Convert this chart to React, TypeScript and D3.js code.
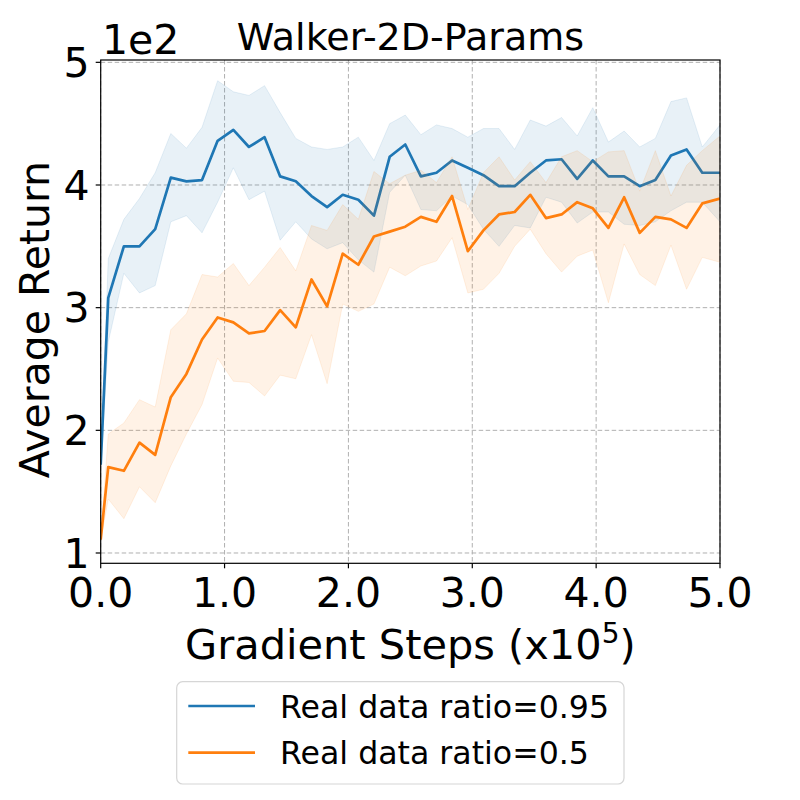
import * as d3 from "d3";

// gradient steps (x1e5)
const pasos = [
  0, 0.061, 0.187, 0.313, 0.44, 0.566, 0.692, 0.818, 0.944, 1.071, 1.197, 1.323, 1.449, 1.575,
  1.702, 1.828, 1.954, 2.08, 2.206, 2.333, 2.459, 2.585, 2.711, 2.837, 2.964, 3.09, 3.216,
  3.342, 3.468, 3.595, 3.721, 3.847, 3.973, 4.099, 4.226, 4.352, 4.478, 4.604, 4.73, 4.857, 5.0,
];

// Real data ratio = 0.95 (x1e2)
const azulMedia = [
  1.72, 3.08, 3.5, 3.5, 3.64, 4.06, 4.03, 4.04, 4.36, 4.45, 4.31, 4.39, 4.07, 4.03, 3.91, 3.82,
  3.92, 3.88, 3.75, 4.23, 4.33, 4.07, 4.1, 4.2, 4.14, 4.08, 3.99, 3.99, 4.1, 4.2, 4.21, 4.05,
  4.2, 4.07, 4.07, 3.99, 4.04, 4.24, 4.29, 4.1, 4.1,
];
const azulAlto = [
  1.76, 3.4, 3.72, 3.89, 4.1, 4.42, 4.3, 4.47, 4.85, 4.76, 4.73, 4.81, 4.59, 4.38, 4.31, 4.29,
  4.31, 4.39, 4.2, 4.5, 4.57, 4.41, 4.49, 4.46, 4.39, 4.46, 4.46, 4.29, 4.53, 4.48, 4.55, 4.4,
  4.63, 4.35, 4.44, 4.31, 4.38, 4.68, 4.71, 4.31, 4.49,
];
const azulBajo = [
  1.68, 2.72, 3.28, 3.12, 3.18, 3.7, 3.75, 3.61, 3.86, 4.14, 3.88, 3.95, 3.55, 3.7, 3.56, 3.48,
  3.53, 3.39, 3.29, 3.94, 4.08, 3.8, 3.79, 3.91, 3.84, 3.64, 3.5, 3.67, 3.65, 3.9, 3.86, 3.69,
  3.78, 3.78, 3.68, 3.67, 3.7, 3.79, 3.86, 3.86, 3.7,
];

// Real data ratio = 0.5 (x1e2)
const naranjaMedia = [
  1.11, 1.7, 1.67, 1.9, 1.8, 2.27, 2.46, 2.74, 2.92, 2.88, 2.79, 2.81, 2.98, 2.84, 3.23, 3.01,
  3.44, 3.35, 3.58, 3.62, 3.66, 3.74, 3.7, 3.91, 3.46, 3.63, 3.76, 3.78, 3.92, 3.73, 3.76, 3.86,
  3.81, 3.65, 3.9, 3.61, 3.74, 3.72, 3.65, 3.85, 3.89,
];
const naranjaAlto = [
  1.12, 1.97, 2.06, 2.25, 2.19, 2.82, 2.95, 3.27, 3.25, 3.36, 3.18, 3.33, 3.49, 3.3, 3.67, 3.63,
  3.84, 3.72, 4.11, 4.01, 4.08, 4.12, 4.02, 4.23, 3.8, 4.1, 4.23, 4.04, 4.19, 4.02, 4.23, 4.28,
  4.19, 4.27, 4.28, 3.95, 4.28, 3.91, 4.16, 4.28, 4.4,
];
const naranjaBajo = [
  1.1, 1.44, 1.28, 1.54, 1.41, 1.71, 1.97, 2.21, 2.59, 2.4, 2.39, 2.28, 2.45, 2.42, 2.78, 2.38,
  3.03, 2.97, 3.03, 3.33, 3.26, 3.34, 3.38, 3.57, 3.12, 3.15, 3.28, 3.5, 3.64, 3.44, 3.29, 3.42,
  3.47, 3.04, 3.52, 3.27, 3.18, 3.51, 3.15, 3.41, 3.37,
];

const ticksX = [0, 1, 2, 3, 4, 5];
const ticksY = [1, 2, 3, 4, 5];

const series = [
  { nombre: "Real data ratio=0.95", color: "#1f77b4", media: azulMedia, alto: azulAlto, bajo: azulBajo },
  { nombre: "Real data ratio=0.5", color: "#ff7f0e", media: naranjaMedia, alto: naranjaAlto, bajo: naranjaBajo },
];

const FUENTE = "DejaVu Sans, sans-serif";

export default function App() {
  const izq = 100.7;
  const der = 720;
  const arriba = 60;
  const abajo = 563.3;

  const x = d3.scaleLinear().domain([0, 5]).range([izq, der]);
  const y = d3.scaleLinear().domain([0.916, 5.019]).range([abajo, arriba]);

  const linea = (vals: number[]) =>
    d3
      .line<number>()
      .x((_, i) => x(pasos[i]))
      .y((d) => y(d))(vals) || "";

  const banda = (bajo: number[], alto: number[]) =>
    d3
      .area<number>()
      .x((_, i) => x(pasos[i]))
      .y0((_, i) => y(bajo[i]))
      .y1((d) => y(d))(alto) || "";

  return (
    <svg
      width={800}
      height={800}
      viewBox="0 0 800 800"
      style={{ position: "absolute", left: 0, top: 0, background: "#fff" }}
      fontFamily={FUENTE}
    >
      <defs>
        <clipPath id="area-grafica">
          <rect x={izq} y={arriba} width={der - izq} height={abajo - arriba} />
        </clipPath>
      </defs>

      {/* rejilla */}
      <g stroke="#b0b0b0" strokeWidth={1} strokeDasharray="4.5,2.5">
        {ticksX.map((t) => (
          <line key={"gx" + t} x1={x(t)} x2={x(t)} y1={arriba} y2={abajo} />
        ))}
        {ticksY.map((t) => (
          <line key={"gy" + t} x1={izq} x2={der} y1={y(t)} y2={y(t)} />
        ))}
      </g>

      <g clipPath="url(#area-grafica)">
        {series.map((s) => (
          <g key={s.nombre}>
            <path
              d={banda(s.bajo, s.alto)}
              fill={s.color}
              fillOpacity={0.1}
              stroke={s.color}
              strokeOpacity={0.1}
              strokeWidth={1}
            />
            <path d={linea(s.media)} fill="none" stroke={s.color} strokeWidth={2.7} strokeLinejoin="round" />
          </g>
        ))}
      </g>

      {/* marco */}
      <rect x={izq} y={arriba} width={der - izq} height={abajo - arriba} fill="none" stroke="#000" strokeWidth={1.2} />

      {/* ejes */}
      {ticksY.map((t) => (
        <g key={"ty" + t}>
          <line x1={izq - 5} x2={izq} y1={y(t)} y2={y(t)} stroke="#000" strokeWidth={1.2} />
          <text x={izq - 11} y={y(t)} dy="0.36em" textAnchor="end" fontSize={41}>
            {t}
          </text>
        </g>
      ))}
      {ticksX.map((t) => (
        <g key={"tx" + t}>
          <line x1={x(t)} x2={x(t)} y1={abajo} y2={abajo + 5} stroke="#000" strokeWidth={1.2} />
          <text x={x(t)} y={607} textAnchor="middle" fontSize={41}>
            {t.toFixed(1)}
          </text>
        </g>
      ))}

      <text x={102} y={53.5} fontSize={41}>
        1e2
      </text>
      <text x={(izq + der) / 2} y={50} textAnchor="middle" fontSize={38}>
        Walker-2D-Params
      </text>

      <text
        transform={`translate(49,${(arriba + abajo) / 2 + 8}) rotate(-90)`}
        textAnchor="middle"
        fontSize={41}
      >
        Average Return
      </text>
      <text x={(izq + der) / 2} y={659.3} textAnchor="middle" fontSize={41.5}>
        Gradient Steps (x10
        <tspan fontSize={28} dy={-16}>
          5
        </tspan>
        <tspan dy={16}>)</tspan>
      </text>

      {/* leyenda */}
      <rect x={176.7} y={681.7} width={447.3} height={102.3} rx={6} fill="#fff" stroke="#d6d6d6" strokeWidth={1.2} />
      {series.map((s, i) => (
        <g key={"ley" + s.nombre} transform={`translate(0,${i * 46.6})`}>
          <line x1={188.3} x2={255} y1={706} y2={706} stroke={s.color} strokeWidth={2.7} />
          <text x={280} y={717.7} fontSize={31.6}>
            {s.nombre}
          </text>
        </g>
      ))}
    </svg>
  );
}
